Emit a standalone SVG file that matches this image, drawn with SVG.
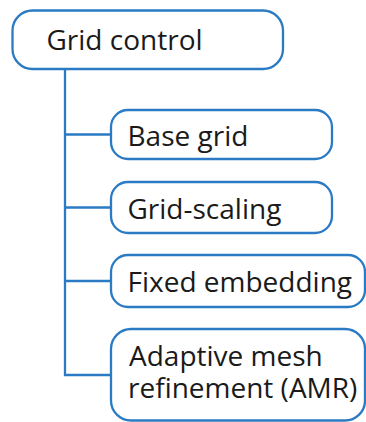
<svg xmlns="http://www.w3.org/2000/svg" width="366" height="422" viewBox="0 0 366 422">
<style>
.box{fill:#fff;stroke:#2a7bc4;stroke-width:2.3}
.ln{fill:none;stroke:#2a7bc4;stroke-width:2.3}
.t{font-family:"Open Sans","Noto Sans",sans-serif;font-size:28px;fill:#1a1a1a}
</style>
<rect width="366" height="422" fill="#fff"/>
<g id="connectors">
<path class="ln" d="M65 69V375H111M65 134.5H111M65 207.5H111M65 281H111"/>
</g>
<g id="grid-control">
<rect class="box" x="12.5" y="10.5" width="270.5" height="58.5" rx="20"/>
<text class="t" x="46.5" y="50">Grid control</text>
</g>
<g id="base-grid">
<rect class="box" x="111" y="110" width="221" height="49" rx="17"/>
<text class="t" x="127.5" y="146">Base grid</text>
</g>
<g id="grid-scaling">
<rect class="box" x="111" y="182" width="221" height="51" rx="17"/>
<text class="t" x="127.5" y="219">Grid-scaling</text>
</g>
<g id="fixed-embedding">
<rect class="box" x="111" y="255" width="254" height="52" rx="17"/>
<text class="t" x="127.5" y="292">Fixed embedding</text>
</g>
<g id="amr">
<rect class="box" x="111" y="329" width="254" height="91.5" rx="20"/>
<text class="t"><tspan x="129" y="366">Adaptive mesh</tspan><tspan x="128" y="398">refinement (AMR)</tspan></text>
</g>
</svg>
